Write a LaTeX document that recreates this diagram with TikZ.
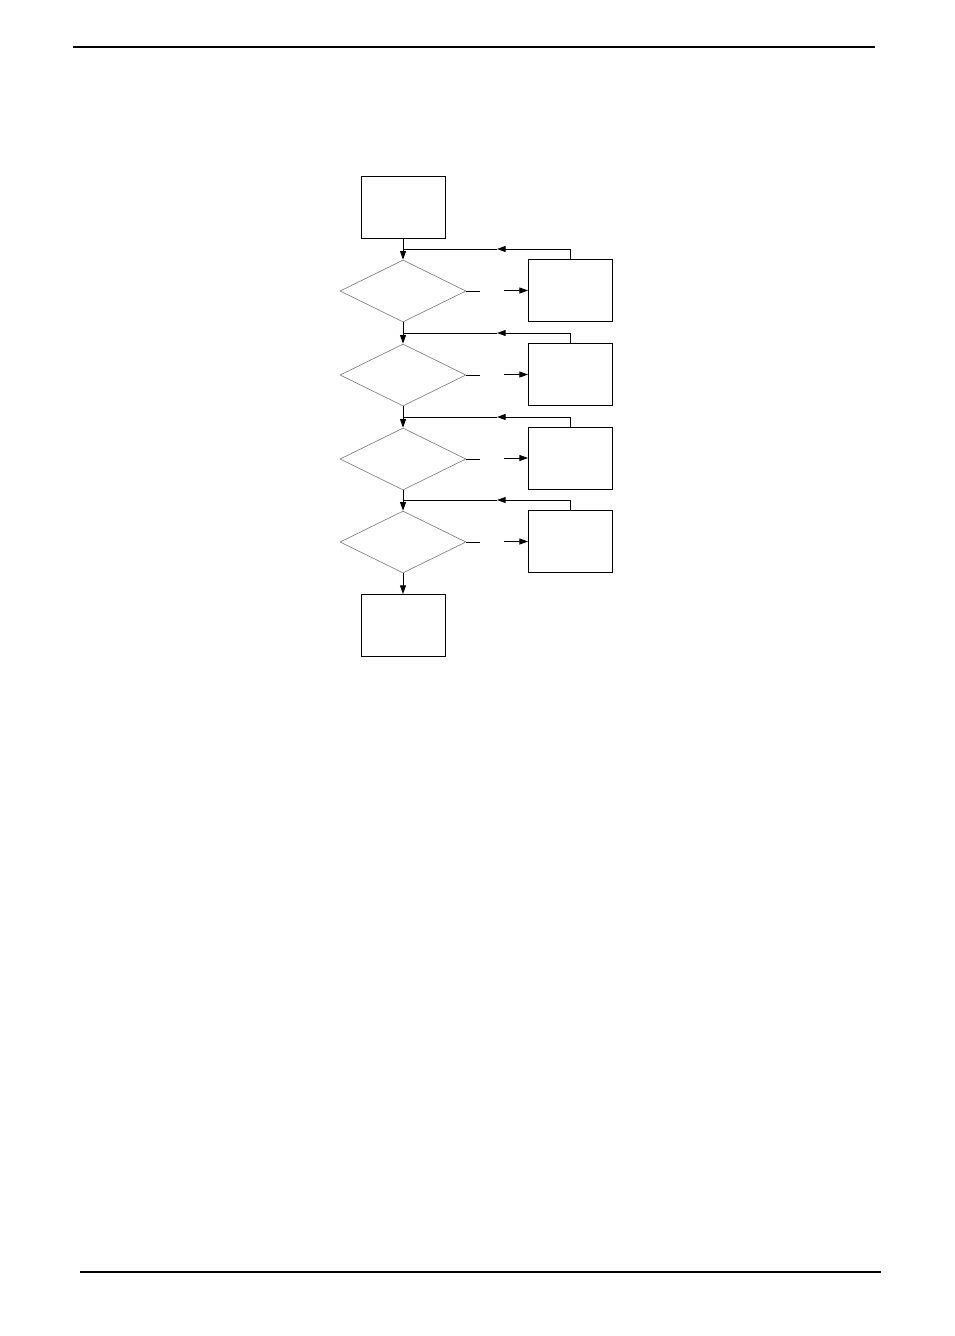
\documentclass[tikz,border=0pt]{standalone}
\usetikzlibrary{shapes.geometric,arrows.meta}
\begin{document}
\begin{tikzpicture}[x=0.75pt,y=-0.75pt,
  box/.style={draw=black,line width=0.7pt,minimum width=63pt,minimum height=46.5pt,inner sep=0pt},
  dec/.style={draw=black!50,line width=0.5pt,shape=diamond,minimum width=94.5pt,minimum height=46.5pt,inner sep=0pt},
  conn/.style={line width=0.7pt},
  arr/.style={line width=0.7pt,-{Triangle[length=6.5pt,width=4.5pt]}},
  rule/.style={line width=0.9pt}]
\useasboundingbox (0,0) rectangle (954,1336);
\draw[rule] (73,47) coordinate (tl) -- (875,47) coordinate (tr);
\draw[rule] (80,1272) coordinate (bl) -- (881,1272) coordinate (br);
\node[box] (start) at (403,207) {};
\node[dec] (d1) at (403,291) {};
\node[dec] (d2) at (403,375) {};
\node[dec] (d3) at (403,459) {};
\node[dec] (d4) at (403,542) {};
\node[box] (r1) at (570.5,290.5) {};
\node[box] (r2) at (570.5,374.5) {};
\node[box] (r3) at (570.5,458) {};
\node[box] (r4) at (570.5,541.5) {};
\node[box] (end) at (403,625.5) {};
% main flow
\draw[arr] (start.south) -- (d1.north);
\draw[arr] (d1.south) -- (d2.north);
\draw[arr] (d2.south) -- (d3.north);
\draw[arr] (d3.south) -- (d4.north);
\draw[arr] (d4.south) -- (end.north);
% right branches
\foreach \i in {1,2,3,4}{
  \coordinate (a\i) at ([xshift=10.5pt]d\i.east);
  \coordinate (b\i) at ([xshift=-18pt]r\i.west);
  \draw[conn] (d\i.east) -- (a\i);
  \draw[arr] (b\i) -- (r\i.west);
}
% feedback loops
\coordinate (j1) at (403,249);
\coordinate (j2) at (403,333);
\coordinate (j3) at (403,417);
\coordinate (j4) at (403,500);
\foreach \i in {1,2,3,4}{
  \coordinate (m\i) at (j\i -| 497,0);
  \draw[arr] (r\i.north) |- (m\i);
  \draw[conn] (m\i) -- (j\i);
}
\end{tikzpicture}
\end{document}
